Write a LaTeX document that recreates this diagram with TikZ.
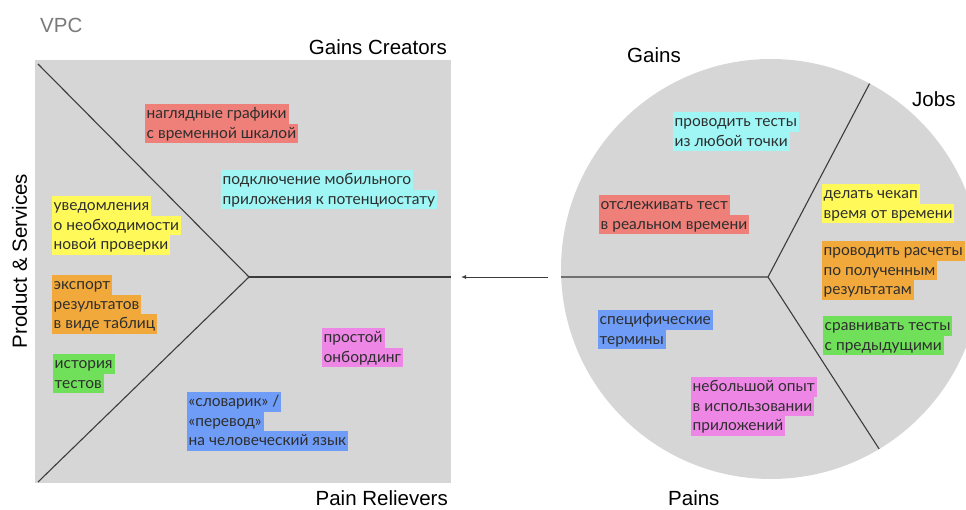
\documentclass[tikz,border=0pt]{standalone}
\usepackage{fontspec}
\setmainfont{Liberation Sans}
\newfontfamily\notefont{Lato}
\usetikzlibrary{arrows.meta}

\definecolor{panel}{HTML}{D6D6D6}
\definecolor{linegray}{HTML}{3C3C3C}
\definecolor{vpcgray}{HTML}{7A7A7A}
\definecolor{notetext}{HTML}{2E2E2E}
\definecolor{hlred}{HTML}{EE8079}
\definecolor{hlcyan}{HTML}{A0F5F5}
\definecolor{hlyellow}{HTML}{FFFA5A}
\definecolor{hlorange}{HTML}{F2A93B}
\definecolor{hlgreen}{HTML}{70E05A}
\definecolor{hlblue}{HTML}{6E9CF7}
\definecolor{hlpink}{HTML}{EE86E6}

\setlength{\fboxsep}{0pt}
% one highlighted line of a sticker
\newcommand\hl[2]{\colorbox{#1}{\rule[-5pt]{0pt}{19.5pt}\hspace{1.5pt}#2\hspace{2pt}}}

\tikzset{
  area/.style={fill=panel, draw=none, inner sep=0pt, outer sep=0pt},
  divider/.style={draw=linegray, line width=1.1pt},
  head/.style={font=\fontsize{20.5}{24}\selectfont, text=black, inner sep=0pt},
  note/.style={anchor=north west, inner sep=0pt, align=left, text=notetext,
    font=\notefont\fontsize{15.5}{19.5}\selectfont}
}

\begin{document}
\begin{tikzpicture}[x=1pt,y=-1pt]
  \useasboundingbox (0,0) rectangle (966,510);
  \clip (0,0) rectangle (966,510);

  % Value map (square)
  \node [area, anchor=north west, minimum width=416pt, minimum height=423pt] (map) at (35,60) {};
  \coordinate (mc) at (249,277);
  \draw [divider] ([shift={(3,4)}]map.north west) -- (mc) -- ([shift={(3,-1)}]map.south west);
  \draw [divider] (mc) -- (mc -| map.east);

  % Customer profile (circle)
  \node [area, circle, minimum size=420pt] (prof) at (771,269) {};
  \coordinate (pc) at (768,277);
  \draw [divider] (pc -| prof.west) -- (pc) -- (prof.62);
  \draw [divider] (pc) -- (prof.-59);

  % Fit arrow
  \coordinate (tail) at (548,277);
  \coordinate (tip)  at (461,277);
  \draw [linegray, line width=0.9pt, -{Latex[length=5pt,width=4pt]}] (tail) -- (tip);

  % Titles
  \node [head, anchor=base west, text=vpcgray] (vpc) at (40,33) {VPC};
  \node [head, anchor=base east] (gcT) at (447,54.5) {Gains Creators};
  \node [head, anchor=base east] (prT) at (448,505) {Pain Relievers};
  \node [head, anchor=base, rotate=90] (psT) at (27,261) {Product \& Services};
  \node [head, anchor=base west] (gT) at (627,63) {Gains};
  \node [head, anchor=base west] (jT) at (912,107) {Jobs};
  \node [head, anchor=base west] (pT) at (668,505) {Pains};

  % Gains creators
  \node [note] (gc1) at (145,104) {\hl{hlred}{наглядные графики}\\\hl{hlred}{с временной шкалой}};
  \node [note] (gc2) at (221,170) {\hl{hlcyan}{подключение мобильного}\\\hl{hlcyan}{приложения к потенциостату}};

  % Products & services
  \node [note] (ps1) at (52,196) {\hl{hlyellow}{уведомления}\\\hl{hlyellow}{о необходимости}\\\hl{hlyellow}{новой проверки}};
  \node [note] (ps2) at (52,275) {\hl{hlorange}{экспорт}\\\hl{hlorange}{результатов}\\\hl{hlorange}{в виде таблиц}};
  \node [note] (ps3) at (53,354) {\hl{hlgreen}{история}\\\hl{hlgreen}{тестов}};

  % Pain relievers
  \node [note] (pr1) at (187,392) {\hl{hlblue}{«словарик» /}\\\hl{hlblue}{«перевод»}\\\hl{hlblue}{на человеческий язык}};
  \node [note] (pr2) at (322,328) {\hl{hlpink}{простой}\\\hl{hlpink}{онбординг}};

  % Gains
  \node [note] (g1) at (673,112) {\hl{hlcyan}{проводить тесты}\\\hl{hlcyan}{из любой точки}};
  \node [note] (g2) at (599,195) {\hl{hlred}{отслеживать тест}\\\hl{hlred}{в реальном времени}};

  % Jobs
  \node [note] (j1) at (822,184) {\hl{hlyellow}{делать чекап}\\\hl{hlyellow}{время от времени}};
  \node [note] (j2) at (822,241) {\hl{hlorange}{проводить расчеты}\\\hl{hlorange}{по полученным}\\\hl{hlorange}{результатам}};
  \node [note] (j3) at (823,316) {\hl{hlgreen}{сравнивать тесты}\\\hl{hlgreen}{с предыдущими}};

  % Pains
  \node [note] (p1) at (598,310) {\hl{hlblue}{специфические}\\\hl{hlblue}{термины}};
  \node [note] (p2) at (691,377) {\hl{hlpink}{небольшой опыт}\\\hl{hlpink}{в использовании}\\\hl{hlpink}{приложений}};

\end{tikzpicture}
\end{document}
